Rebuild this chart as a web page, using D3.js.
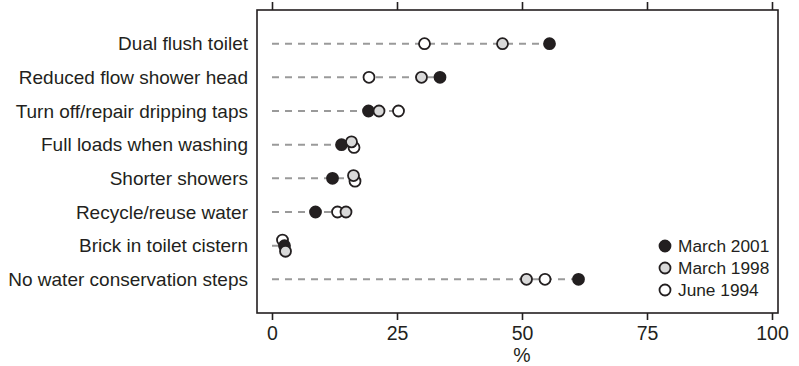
<!DOCTYPE html>
<html>
<head>
<meta charset="utf-8">
<script src="https://cdn.jsdelivr.net/npm/d3@7"></script>
<style>
  html, body { margin: 0; padding: 0; background: #fff; }
  svg { display: block; font-family: "Liberation Sans", Arial, sans-serif; }
  .label { font-size: 19px; fill: #231f20; }
  .tick-label { font-size: 19.5px; fill: #231f20; }
  .legend-text { font-size: 17.3px; fill: #231f20; }
</style>
</head>
<body>
<div id="chart"></div>
<script>
// DATA ---------------------------------------------------------------------
const categories = [
  "Dual flush toilet",
  "Reduced flow shower head",
  "Turn off/repair dripping taps",
  "Full loads when washing",
  "Shorter showers",
  "Recycle/reuse water",
  "Brick in toilet cistern",
  "No water conservation steps"
];
const seriesNames = ["March 2001", "March 1998", "June 1994"];
const march2001 = [55.5, 33.6, 19.3, 13.9, 12.1, 8.7, 2.5, 61.3];
const march1998 = [46.1, 29.9, 21.4, 15.9, 16.3, 14.8, 2.7, 50.9];
const june1994  = [30.5, 19.4, 25.3, 16.4, 16.6, 13.1, 2.1, 54.6];
const xTicks = [0, 25, 50, 75, 100];
// DATA ---------------------------------------------------------------------

const width = 799, height = 366;
const frame = { left: 257, right: 778, top: 10, bottom: 313 };
const fills = { "March 2001": "#231f20", "March 1998": "#d9d9d9", "June 1994": "#ffffff" };
const stroke = "#231f20";
const radius = 5.5;

const svg = d3.select("#chart").append("svg")
  .attr("width", width)
  .attr("height", height);

// SCALES
const x = d3.scaleLinear().domain([0, 100]).range([272, 772]);
const y = d3.scalePoint().domain(categories).range([frame.top, frame.bottom]).padding(1);

// FRAME + AXES ------------------------------------------------------------
svg.append("rect")
  .attr("x", frame.left).attr("y", frame.top)
  .attr("width", frame.right - frame.left).attr("height", frame.bottom - frame.top)
  .attr("fill", "none").attr("stroke", stroke).attr("stroke-width", 1.6);

const bottomAxis = svg.append("g")
  .attr("transform", `translate(0, ${frame.bottom})`)
  .call(d3.axisBottom(x).tickValues(xTicks).tickSize(7).tickPadding(6).tickFormat(d3.format("d")));
bottomAxis.select(".domain").remove();
bottomAxis.selectAll(".tick line").attr("stroke", stroke).attr("stroke-width", 1.6);
bottomAxis.selectAll(".tick text").attr("class", "tick-label")
  .attr("font-family", null).attr("font-size", null).attr("fill", null);

const topAxis = svg.append("g")
  .attr("transform", `translate(0, ${frame.top})`)
  .call(d3.axisTop(x).tickValues(xTicks).tickSize(8).tickFormat(""));
topAxis.select(".domain").remove();
topAxis.selectAll(".tick line").attr("stroke", stroke).attr("stroke-width", 1.6);

svg.append("text")
  .attr("class", "tick-label")
  .attr("x", x(50)).attr("y", 362)
  .attr("text-anchor", "middle")
  .text("%");

// CATEGORY LABELS
svg.append("g").selectAll("text")
  .data(categories).enter()
  .append("text")
  .attr("class", "label")
  .attr("x", 248)
  .attr("y", d => y(d))
  .attr("dy", "0.35em")
  .attr("text-anchor", "end")
  .text(d => d);

// ROWS ---------------------------------------------------------------------
const rows = categories.map((c, i) => {
  const pts = [
    { series: "March 2001", value: march2001[i] },
    { series: "March 1998", value: march1998[i] },
    { series: "June 1994", value: june1994[i] }
  ];
  // nudge near-coincident points apart vertically (ascending value top->bottom)
  const sorted = pts.slice().sort((a, b) => a.value - b.value);
  const clusters = [];
  sorted.forEach(p => {
    const last = clusters[clusters.length - 1];
    if (last && p.value - last[last.length - 1].value < 1) last.push(p);
    else clusters.push([p]);
  });
  clusters.forEach(cl => {
    cl.forEach((p, k) => { p.dy = (k - (cl.length - 1) / 2) * 5.6; });
  });
  return { category: c, points: pts, max: d3.max(pts, p => p.value) };
});

const rowGroups = svg.append("g").selectAll("g")
  .data(rows).enter()
  .append("g")
  .attr("transform", d => `translate(0, ${y(d.category)})`);

rowGroups.append("line")
  .attr("x1", x(0))
  .attr("x2", d => x(d.max))
  .attr("stroke", "#9a9a9a")
  .attr("stroke-width", 2)
  .attr("stroke-dasharray", "7,6");

const drawOrder = ["June 1994", "March 2001", "March 1998"];
rowGroups.selectAll("circle")
  .data(d => drawOrder.map(s => d.points.find(p => p.series === s)))
  .enter()
  .append("circle")
  .attr("cx", d => x(d.value))
  .attr("cy", d => d.dy)
  .attr("r", radius)
  .attr("fill", d => fills[d.series])
  .attr("stroke", stroke)
  .attr("stroke-width", 1.8);

// LEGEND -------------------------------------------------------------------
const legend = svg.append("g").attr("transform", "translate(665, 246)");
const legendItems = legend.selectAll("g")
  .data(seriesNames).enter()
  .append("g")
  .attr("transform", (d, i) => `translate(0, ${i * 22})`);

legendItems.append("circle")
  .attr("r", radius)
  .attr("fill", d => fills[d])
  .attr("stroke", stroke)
  .attr("stroke-width", 1.8);

legendItems.append("text")
  .attr("class", "legend-text")
  .attr("x", 13)
  .attr("dy", "0.36em")
  .text(d => d);
</script>
</body>
</html>
